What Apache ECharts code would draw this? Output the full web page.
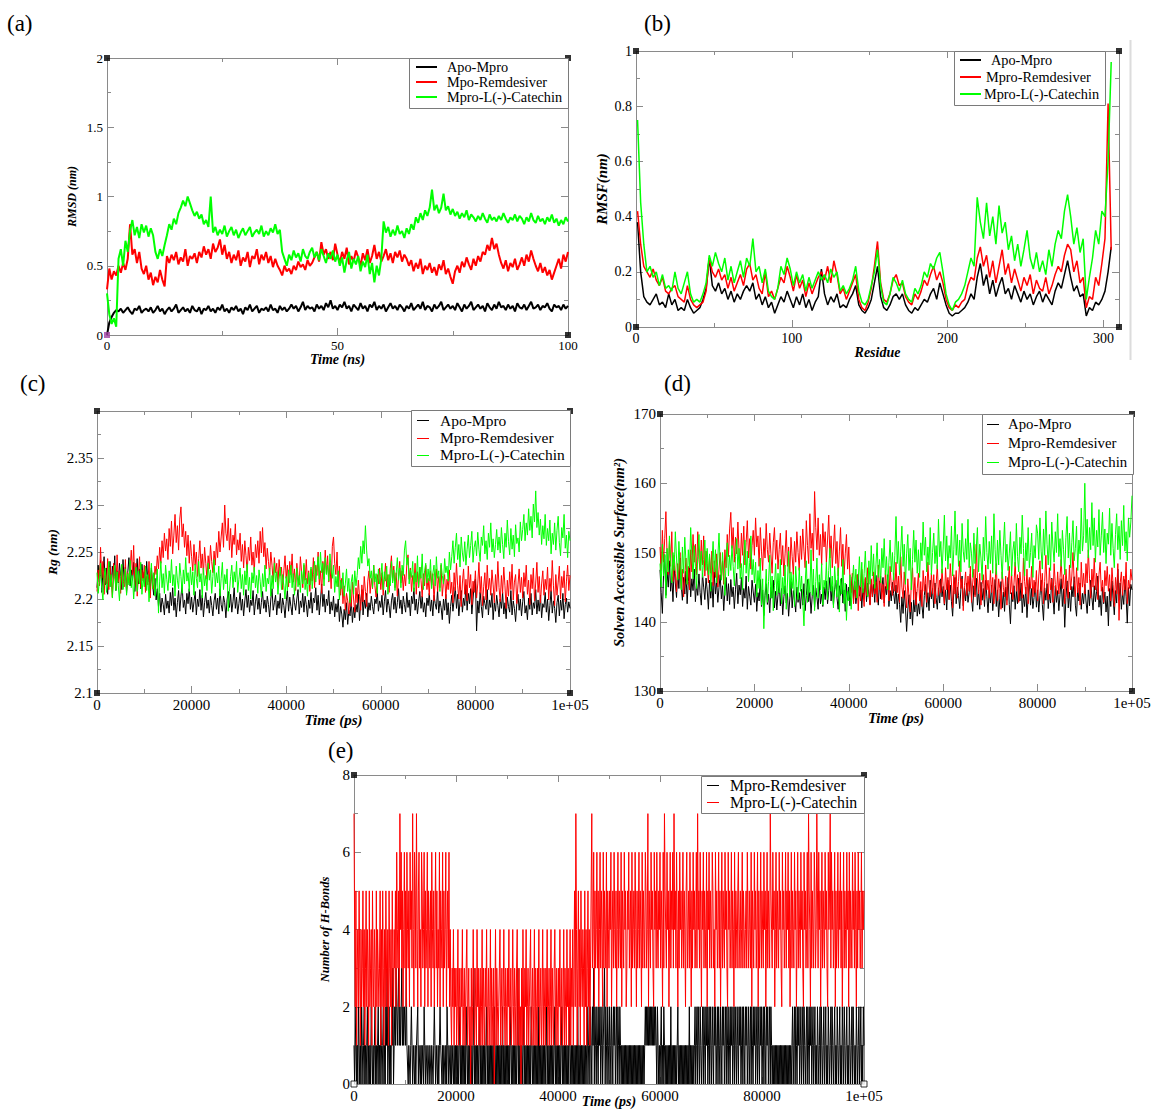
<!DOCTYPE html>
<html><head><meta charset="utf-8">
<script src="https://cdn.jsdelivr.net/npm/echarts@6/dist/echarts.min.js"></script>
<style>html,body{margin:0;padding:0;background:#fff}#c{width:1151px;height:1115px}</style>
</head><body><div id="c"></div>
<script>
// ---------- (a) RMSD, one value every 0.5 ns ----------
const rmsdStepNs = 0.5;
const rmsdApo = [
0.00,0.09,0.13,0.16,0.18,0.17,0.19,0.16,0.18,0.20,
0.17,0.15,0.19,0.18,0.21,0.16,0.18,0.19,0.17,0.20,
0.16,0.18,0.21,0.17,0.19,0.15,0.18,0.20,0.17,0.19,
0.22,0.16,0.18,0.20,0.17,0.19,0.16,0.21,0.18,0.17,
0.20,0.15,0.19,0.18,0.21,0.17,0.19,0.16,0.20,0.18,
0.22,0.17,0.19,0.16,0.20,0.18,0.21,0.17,0.19,0.15,
0.20,0.18,0.22,0.17,0.19,0.21,0.16,0.19,0.18,0.20,
0.17,0.22,0.18,0.19,0.16,0.21,0.18,0.20,0.17,0.19,
0.22,0.19,0.21,0.17,0.20,0.24,0.18,0.21,0.19,0.20,
0.17,0.22,0.19,0.21,0.18,0.23,0.20,0.25,0.19,0.21,
0.18,0.22,0.20,0.24,0.19,0.21,0.17,0.22,0.20,0.18,
0.23,0.19,0.21,0.17,0.22,0.20,0.24,0.18,0.21,0.19,
0.22,0.17,0.20,0.23,0.19,0.21,0.18,0.22,0.20,0.17,
0.21,0.19,0.23,0.18,0.20,0.22,0.19,0.24,0.18,0.21,
0.20,0.17,0.22,0.19,0.21,0.24,0.18,0.20,0.22,0.19,
0.21,0.18,0.23,0.20,0.17,0.22,0.19,0.21,0.24,0.18,
0.20,0.22,0.19,0.21,0.17,0.23,0.20,0.18,0.22,0.19,
0.24,0.20,0.21,0.18,0.22,0.19,0.21,0.17,0.23,0.20,
0.19,0.22,0.18,0.21,0.24,0.19,0.20,0.22,0.18,0.21,
0.20,0.23,0.19,0.17,0.22,0.20,0.21,0.18,0.22,0.19,
0.21];
const rmsdRem = [
0.33,0.48,0.40,0.46,0.43,0.50,0.45,0.52,0.47,0.55,
0.80,0.58,0.62,0.52,0.60,0.48,0.44,0.50,0.40,0.45,
0.36,0.42,0.38,0.47,0.40,0.35,0.57,0.52,0.58,0.54,
0.60,0.51,0.56,0.53,0.62,0.50,0.57,0.55,0.59,0.52,
0.60,0.56,0.64,0.58,0.62,0.55,0.66,0.60,0.63,0.69,
0.58,0.65,0.55,0.60,0.52,0.58,0.54,0.61,0.50,0.56,
0.53,0.60,0.49,0.57,0.55,0.62,0.51,0.58,0.54,0.60,
0.52,0.57,0.49,0.55,0.50,0.47,0.43,0.50,0.46,0.48,
0.44,0.50,0.47,0.53,0.49,0.51,0.47,0.54,0.50,0.52,
0.56,0.60,0.53,0.67,0.58,0.62,0.55,0.60,0.54,0.66,
0.58,0.52,0.60,0.55,0.63,0.51,0.57,0.53,0.61,0.56,
0.50,0.59,0.54,0.62,0.52,0.57,0.65,0.55,0.60,0.53,
0.57,0.62,0.54,0.59,0.52,0.60,0.56,0.61,0.53,0.58,
0.55,0.50,0.54,0.46,0.52,0.48,0.55,0.44,0.50,0.47,
0.52,0.45,0.49,0.43,0.51,0.47,0.54,0.44,0.48,0.42,
0.37,0.46,0.50,0.45,0.53,0.49,0.56,0.51,0.47,0.55,
0.50,0.57,0.53,0.60,0.58,0.65,0.61,0.70,0.62,0.66,
0.58,0.52,0.48,0.54,0.46,0.52,0.49,0.55,0.47,0.51,
0.56,0.50,0.58,0.53,0.61,0.55,0.50,0.46,0.52,0.45,
0.49,0.43,0.47,0.40,0.45,0.50,0.55,0.48,0.58,0.53,
0.60];
const rmsdCat = [
0.30,0.15,0.08,0.12,0.06,0.55,0.62,0.50,0.68,0.60,
0.75,0.83,0.72,0.78,0.70,0.80,0.74,0.79,0.71,0.77,
0.72,0.60,0.55,0.62,0.57,0.65,0.72,0.80,0.76,0.84,
0.80,0.88,0.92,0.97,0.93,1.00,0.95,0.90,0.86,0.89,
0.84,0.87,0.80,0.83,0.78,1.00,0.74,0.78,0.72,0.76,
0.73,0.79,0.71,0.75,0.78,0.72,0.76,0.70,0.74,0.77,
0.72,0.75,0.78,0.71,0.74,0.76,0.73,0.79,0.71,0.75,
0.72,0.77,0.74,0.80,0.73,0.76,0.60,0.55,0.50,0.58,
0.54,0.61,0.56,0.59,0.53,0.62,0.57,0.55,0.60,0.63,
0.56,0.60,0.54,0.62,0.57,0.52,0.59,0.55,0.61,0.53,
0.58,0.50,0.56,0.45,0.54,0.60,0.48,0.55,0.51,0.57,
0.46,0.53,0.49,0.58,0.44,0.52,0.38,0.50,0.43,0.55,
0.82,0.74,0.78,0.71,0.76,0.72,0.79,0.73,0.75,0.70,
0.77,0.73,0.80,0.76,0.85,0.81,0.88,0.83,0.90,0.86,
0.92,1.05,0.90,0.94,0.88,0.92,1.02,0.90,0.93,0.87,
0.91,0.86,0.89,0.84,0.88,0.85,0.90,0.83,0.87,0.85,
0.82,0.86,0.83,0.88,0.84,0.81,0.87,0.83,0.85,0.82,
0.86,0.83,0.88,0.84,0.81,0.85,0.83,0.87,0.82,0.86,
0.84,0.80,0.85,0.82,0.88,0.83,0.81,0.86,0.82,0.84,
0.80,0.85,0.82,0.87,0.81,0.84,0.79,0.83,0.80,0.85,
0.82];

// ---------- (b) RMSF, residues 1,3,5,...,305 ----------
const rmsfFirstResidue = 1, rmsfResidueStep = 2;
const rmsfApo = [
0.38,0.20,0.11,0.09,0.08,0.10,0.12,0.08,0.09,0.07,
0.12,0.08,0.10,0.06,0.07,0.06,0.10,0.07,0.05,0.06,
0.07,0.10,0.14,0.25,0.15,0.13,0.16,0.12,0.14,0.10,
0.13,0.09,0.12,0.10,0.13,0.15,0.13,0.16,0.10,0.12,
0.08,0.11,0.07,0.09,0.05,0.08,0.11,0.09,0.13,0.10,
0.07,0.11,0.08,0.12,0.07,0.10,0.06,0.09,0.11,0.21,
0.12,0.08,0.11,0.09,0.12,0.07,0.08,0.07,0.10,0.12,
0.15,0.08,0.06,0.05,0.07,0.10,0.16,0.22,0.11,0.07,
0.06,0.08,0.11,0.12,0.10,0.12,0.08,0.06,0.05,0.07,
0.06,0.08,0.10,0.09,0.12,0.14,0.10,0.16,0.12,0.08,
0.05,0.04,0.05,0.05,0.06,0.07,0.09,0.12,0.10,0.18,
0.23,0.15,0.19,0.12,0.17,0.11,0.15,0.18,0.12,0.14,
0.10,0.15,0.12,0.09,0.13,0.10,0.12,0.08,0.11,0.13,
0.09,0.12,0.10,0.08,0.13,0.16,0.14,0.19,0.24,0.18,
0.13,0.15,0.11,0.12,0.04,0.07,0.06,0.09,0.08,0.10,
0.13,0.20,0.29];
const rmsfRem = [
0.42,0.30,0.22,0.20,0.18,0.21,0.17,0.15,0.18,0.13,
0.12,0.14,0.15,0.11,0.10,0.09,0.15,0.10,0.08,0.07,
0.08,0.09,0.13,0.25,0.20,0.18,0.21,0.17,0.19,0.14,
0.18,0.13,0.16,0.19,0.15,0.21,0.23,0.17,0.19,0.14,
0.12,0.20,0.11,0.13,0.10,0.14,0.18,0.16,0.22,0.18,
0.13,0.19,0.14,0.17,0.11,0.16,0.12,0.15,0.18,0.20,
0.17,0.22,0.16,0.24,0.19,0.12,0.14,0.10,0.13,0.16,
0.19,0.10,0.07,0.06,0.09,0.14,0.22,0.31,0.16,0.10,
0.09,0.12,0.17,0.19,0.15,0.16,0.11,0.09,0.08,0.12,
0.10,0.13,0.17,0.15,0.19,0.22,0.17,0.20,0.16,0.10,
0.07,0.06,0.08,0.07,0.09,0.10,0.15,0.18,0.17,0.25,
0.29,0.22,0.26,0.18,0.24,0.16,0.22,0.28,0.19,0.23,
0.16,0.21,0.17,0.13,0.18,0.15,0.19,0.12,0.17,0.14,
0.13,0.18,0.12,0.15,0.19,0.22,0.20,0.26,0.30,0.28,
0.20,0.24,0.16,0.18,0.07,0.11,0.10,0.18,0.15,0.23,
0.32,0.81,0.28];
const rmsfCat = [
0.75,0.45,0.30,0.20,0.22,0.18,0.20,0.15,0.19,0.14,
0.15,0.13,0.20,0.14,0.12,0.16,0.20,0.12,0.09,0.10,
0.09,0.12,0.16,0.26,0.22,0.27,0.23,0.20,0.25,0.17,
0.22,0.16,0.20,0.24,0.18,0.25,0.22,0.32,0.20,0.22,
0.16,0.21,0.13,0.11,0.10,0.14,0.22,0.19,0.25,0.21,
0.15,0.20,0.16,0.19,0.13,0.18,0.14,0.17,0.20,0.17,
0.19,0.16,0.21,0.18,0.20,0.13,0.15,0.12,0.14,0.17,
0.22,0.13,0.09,0.08,0.10,0.15,0.20,0.28,0.15,0.09,
0.08,0.12,0.18,0.16,0.13,0.17,0.12,0.10,0.09,0.14,
0.12,0.15,0.20,0.18,0.23,0.21,0.25,0.27,0.20,0.12,
0.08,0.06,0.09,0.10,0.12,0.15,0.20,0.25,0.22,0.47,
0.38,0.32,0.45,0.33,0.40,0.30,0.44,0.34,0.38,0.28,
0.33,0.24,0.30,0.22,0.28,0.35,0.25,0.21,0.27,0.20,
0.24,0.19,0.28,0.22,0.30,0.35,0.32,0.42,0.48,0.40,
0.30,0.36,0.27,0.32,0.10,0.18,0.25,0.35,0.30,0.42,
0.40,0.60,0.96];

// ---------- (c) Rg, one value every 250 ps ----------
const rgStepPs = 250;
const rgApo = [
2.212,2.236,2.218,2.241,2.207,2.229,2.245,2.215,2.233,2.205,2.226,2.240,2.213,2.235,2.221,2.246,2.209,2.230,2.217,2.238,
2.224,2.210,2.242,2.219,2.234,2.206,2.228,2.244,2.214,2.231,2.220,2.239,2.208,2.227,2.243,2.216,2.232,2.211,2.237,2.222,
2.229,2.213,2.240,2.218,2.226,2.207,2.233,2.215,2.204,2.222,2.199,2.211,2.192,2.206,2.186,2.201,2.194,2.183,2.205,2.190,
2.198,2.185,2.207,2.193,2.212,2.188,2.201,2.181,2.196,2.209,2.187,2.203,2.215,2.191,2.199,2.184,2.206,2.195,2.211,2.189,
2.202,2.186,2.197,2.208,2.183,2.200,2.192,2.210,2.188,2.204,2.181,2.196,2.207,2.190,2.199,2.185,2.203,2.193,2.182,2.198,
2.206,2.189,2.201,2.184,2.211,2.194,2.187,2.203,2.196,2.180,2.199,2.208,2.191,2.205,2.186,2.197,2.212,2.190,2.202,2.184,
2.195,2.207,2.188,2.200,2.182,2.198,2.210,2.191,2.204,2.186,2.199,2.193,2.209,2.183,2.197,2.205,2.189,2.201,2.184,2.196,
2.208,2.190,2.199,2.186,2.203,2.194,2.181,2.200,2.211,2.188,2.196,2.204,2.183,2.198,2.190,2.206,2.185,2.201,2.193,2.180,
2.197,2.209,2.187,2.202,2.192,2.183,2.205,2.196,2.188,2.200,2.210,2.184,2.198,2.191,2.206,2.186,2.203,2.194,2.181,2.199,
2.190,2.207,2.185,2.201,2.196,2.212,2.188,2.204,2.183,2.199,2.216,2.192,2.205,2.186,2.200,2.193,2.209,2.184,2.197,2.188,
2.203,2.181,2.195,2.186,2.200,2.176,2.192,2.184,2.170,2.189,2.178,2.196,2.173,2.188,2.182,2.199,2.175,2.191,2.180,2.194,
2.186,2.205,2.177,2.197,2.210,2.183,2.199,2.190,2.206,2.181,2.196,2.188,2.203,2.192,2.184,2.200,2.195,2.208,2.187,2.198,
2.191,2.204,2.183,2.197,2.209,2.186,2.200,2.193,2.180,2.198,2.206,2.189,2.202,2.185,2.196,2.211,2.190,2.199,2.184,2.203,
2.194,2.186,2.207,2.191,2.199,2.182,2.203,2.195,2.212,2.188,2.200,2.184,2.197,2.208,2.190,2.203,2.186,2.196,2.181,2.201,
2.193,2.206,2.187,2.199,2.182,2.204,2.195,2.189,2.210,2.185,2.198,2.191,2.178,2.200,2.188,2.205,2.183,2.196,2.174,2.192,
2.204,2.187,2.199,2.213,2.190,2.205,2.182,2.197,2.209,2.186,2.201,2.193,2.215,2.188,2.206,2.195,2.211,2.184,2.200,2.217,
2.221,2.166,2.198,2.185,2.207,2.192,2.180,2.203,2.195,2.189,2.210,2.183,2.199,2.191,2.206,2.178,2.196,2.187,2.204,2.193,
2.181,2.200,2.190,2.207,2.184,2.196,2.179,2.202,2.192,2.186,2.209,2.183,2.198,2.190,2.176,2.195,2.205,2.188,2.200,2.182,
2.197,2.208,2.185,2.193,2.178,2.201,2.189,2.206,2.183,2.196,2.190,2.210,2.184,2.199,2.187,2.204,2.180,2.195,2.191,2.207,
2.186,2.200,2.177,2.193,2.209,2.185,2.198,2.190,2.175,2.196,2.204,2.182,2.199,2.188,2.206,2.179,2.194,2.201,2.186,2.197,
2.190];
const rgRem = [
2.208,2.231,2.214,2.255,2.222,2.240,2.205,2.228,2.216,2.243,2.210,2.234,2.219,2.202,2.238,2.224,2.211,2.247,2.218,2.230,
2.206,2.236,2.221,2.213,2.242,2.209,2.228,2.217,2.233,2.252,2.225,2.257,2.214,2.238,2.203,2.226,2.245,2.212,2.231,2.219,
2.236,2.207,2.224,2.215,2.240,2.201,2.229,2.218,2.211,2.235,2.226,2.246,2.232,2.255,2.238,2.262,2.244,2.270,2.251,2.264,
2.242,2.275,2.256,2.283,2.248,2.268,2.290,2.260,2.278,2.252,2.285,2.298,2.266,2.280,2.255,2.272,2.246,2.268,2.238,2.262,
2.245,2.230,2.258,2.236,2.250,2.224,2.243,2.262,2.233,2.248,2.226,2.255,2.238,2.221,2.246,2.232,2.257,2.240,2.228,2.251,
2.236,2.260,2.244,2.272,2.250,2.266,2.281,2.255,2.300,2.270,2.262,2.286,2.252,2.275,2.244,2.268,2.258,2.280,2.247,2.263,
2.252,2.270,2.240,2.258,2.233,2.262,2.246,2.228,2.255,2.241,2.266,2.236,2.250,2.229,2.258,2.244,2.262,2.238,2.272,2.249,
2.276,2.245,2.260,2.232,2.254,2.240,2.226,2.250,2.236,2.218,2.244,2.228,2.238,2.214,2.242,2.225,2.234,2.210,2.230,2.246,
2.222,2.236,2.213,2.240,2.226,2.248,2.218,2.232,2.209,2.238,2.224,2.215,2.245,2.229,2.212,2.236,2.220,2.242,2.216,2.230,
2.208,2.232,2.219,2.244,2.212,2.236,2.225,2.250,2.215,2.230,2.206,2.240,2.221,2.252,2.227,2.246,2.218,2.238,2.211,2.256,
2.266,2.238,2.226,2.250,2.213,2.235,2.204,2.222,2.195,2.214,2.188,2.206,2.198,2.184,2.210,2.192,2.218,2.200,2.186,2.212,
2.196,2.220,2.203,2.188,2.215,2.197,2.224,2.208,2.192,2.219,2.230,2.206,2.222,2.211,2.236,2.214,2.202,2.226,2.216,2.233,
2.210,2.228,2.204,2.221,2.238,2.213,2.226,2.207,2.232,2.246,2.219,2.235,2.212,2.228,2.203,2.224,2.240,2.217,2.230,2.209,
2.226,2.214,2.237,2.247,2.221,2.233,2.208,2.225,2.216,2.238,2.205,2.229,2.212,2.234,2.220,2.202,2.227,2.214,2.236,2.210,
2.222,2.204,2.230,2.215,2.227,2.198,2.219,2.232,2.208,2.224,2.212,2.236,2.203,2.218,2.226,2.200,2.221,2.210,2.231,2.206,
2.218,2.196,2.228,2.209,2.238,2.214,2.200,2.225,2.192,2.217,2.232,2.205,2.221,2.198,2.235,2.212,2.226,2.194,2.219,2.207,
2.230,2.201,2.216,2.239,2.206,2.224,2.193,2.213,2.228,2.199,2.236,2.210,2.222,2.204,2.231,2.215,2.196,2.226,2.208,2.240,
2.212,2.197,2.225,2.206,2.234,2.214,2.190,2.220,2.203,2.229,2.210,2.237,2.199,2.218,2.226,2.195,2.215,2.232,2.207,2.223,
2.201,2.228,2.213,2.236,2.205,2.220,2.194,2.226,2.211,2.233,2.198,2.217,2.239,2.207,2.224,2.196,2.216,2.230,2.204,2.221,
2.210,2.234,2.199,2.222,2.208,2.241,2.214,2.193,2.226,2.204,2.218,2.235,2.200,2.224,2.212,2.230,2.197,2.219,2.236,2.209,
2.225];
const rgCat = [
2.228,2.206,2.219,2.238,2.211,2.199,2.224,2.233,2.207,2.216,2.240,2.213,2.226,2.201,2.221,2.236,2.209,2.229,2.214,2.198,
2.223,2.237,2.210,2.218,2.232,2.204,2.227,2.215,2.241,2.212,2.225,2.200,2.219,2.234,2.208,2.230,2.216,2.239,2.205,2.222,
2.213,2.235,2.209,2.226,2.197,2.220,2.238,2.211,2.228,2.203,2.216,2.232,2.185,2.219,2.240,2.212,2.227,2.206,2.236,2.221,
2.209,2.230,2.217,2.242,2.214,2.226,2.203,2.235,2.220,2.211,2.238,2.224,2.206,2.231,2.216,2.244,2.219,2.228,2.208,2.234,
2.215,2.229,2.204,2.237,2.222,2.212,2.240,2.218,2.227,2.201,2.233,2.214,2.225,2.209,2.238,2.220,2.231,2.206,2.224,2.242,
2.213,2.228,2.217,2.235,2.203,2.222,2.239,2.210,2.226,2.216,2.232,2.187,2.208,2.224,2.236,2.212,2.229,2.218,2.240,2.207,
2.221,2.233,2.211,2.226,2.204,2.230,2.215,2.237,2.209,2.223,2.200,2.228,2.217,2.234,2.212,2.225,2.206,2.231,2.219,2.202,
2.227,2.213,2.236,2.208,2.222,2.216,2.233,2.203,2.225,2.211,2.238,2.218,2.229,2.205,2.221,2.234,2.210,2.226,2.214,2.200,
2.224,2.209,2.231,2.217,2.236,2.212,2.227,2.204,2.219,2.233,2.213,2.225,2.207,2.230,2.216,2.238,2.210,2.222,2.203,2.228,
2.215,2.234,2.211,2.226,2.240,2.218,2.232,2.245,2.221,2.250,2.228,2.238,2.214,2.244,2.226,2.236,2.219,2.248,2.231,2.222,
2.236,2.207,2.224,2.213,2.230,2.199,2.220,2.211,2.228,2.203,2.216,2.232,2.208,2.222,2.196,2.218,2.226,2.205,2.230,2.214,
2.225,2.244,2.232,2.256,2.238,2.262,2.248,2.278,2.252,2.235,2.243,2.222,2.230,2.212,2.236,2.218,2.227,2.206,2.232,2.216,
2.224,2.238,2.210,2.229,2.219,2.235,2.205,2.226,2.214,2.240,2.217,2.231,2.209,2.227,2.244,2.220,2.233,2.212,2.236,2.225,
2.252,2.262,2.236,2.244,2.216,2.231,2.223,2.240,2.208,2.228,2.218,2.246,2.213,2.234,2.222,2.248,2.210,2.230,2.238,2.217,
2.232,2.219,2.242,2.211,2.227,2.236,2.214,2.245,2.222,2.230,2.208,2.238,2.225,2.216,2.243,2.228,2.235,2.219,2.250,2.231,
2.245,2.262,2.238,2.255,2.270,2.242,2.258,2.234,2.266,2.249,2.240,2.261,2.236,2.253,2.268,2.244,2.257,2.272,2.239,2.255,
2.262,2.246,2.271,2.253,2.240,2.266,2.257,2.278,2.248,2.262,2.242,2.270,2.255,2.281,2.250,2.264,2.244,2.258,2.274,2.252,
2.266,2.249,2.276,2.258,2.243,2.270,2.255,2.284,2.261,2.247,2.275,2.253,2.268,2.245,2.279,2.259,2.265,2.250,2.282,2.262,
2.274,2.290,2.262,2.281,2.268,2.296,2.273,2.288,2.265,2.301,2.282,2.315,2.276,2.292,2.268,2.285,2.258,2.278,2.264,2.290,
2.257,2.275,2.262,2.284,2.248,2.270,2.258,2.281,2.252,2.273,2.288,2.260,2.246,2.276,2.265,2.290,2.254,2.268,2.244,2.272,
2.262];

// ---------- (d) SASA, one value every 250 ps ----------
const sasaStepPs = 250;
const sasaApo = [
147.5,144.2,141.2,146.8,149.6,143.8,147.2,145.0,148.8,144.4,146.5,142.9,148.1,145.6,143.5,147.4,144.8,149.2,145.3,143.1,
146.4,144.0,147.3,142.6,145.8,148.0,143.6,146.2,144.5,147.6,142.9,145.4,143.8,146.9,144.2,142.4,147.0,145.0,143.2,146.3,
144.6,141.8,146.0,143.4,145.7,142.1,147.2,144.0,145.9,142.8,144.9,146.8,143.3,145.2,141.6,144.4,146.4,143.0,145.5,142.5,
146.1,143.6,145.0,141.9,144.7,147.0,142.6,145.3,143.9,146.4,142.2,144.8,143.4,146.6,141.8,145.1,143.7,142.4,146.0,144.3,
142.8,145.4,141.5,144.2,143.0,146.1,142.2,144.6,140.9,143.8,145.5,142.5,144.0,141.3,145.0,143.4,146.0,142.0,144.4,141.7,
143.9,145.6,142.3,144.8,141.0,143.6,145.2,142.7,144.1,140.8,143.3,145.8,142.0,144.5,143.1,141.4,145.0,142.8,144.2,141.9,
144.7,142.4,145.5,141.6,143.8,146.1,142.9,144.3,141.2,143.7,145.3,142.1,144.9,143.5,141.8,145.7,142.6,144.0,142.2,145.0,
143.2,145.9,142.6,144.5,146.4,143.0,145.1,142.4,144.7,146.0,143.4,141.8,145.2,143.8,146.3,142.7,144.6,141.5,145.4,143.1,
145.0,142.3,144.6,146.5,143.2,145.8,142.6,144.1,146.9,143.7,145.3,142.0,144.8,143.4,146.2,142.9,145.6,144.0,142.5,146.0,
143.6,145.4,142.8,146.7,144.2,142.4,145.9,143.3,144.9,146.4,142.7,145.1,143.9,146.8,142.2,144.5,143.0,145.7,144.1,142.6,
145.3,141.8,144.0,142.5,139.9,143.6,141.2,144.5,142.0,138.6,141.7,143.9,140.4,142.8,139.5,143.2,141.4,144.3,140.8,142.6,
141.1,144.6,142.4,140.5,143.8,145.4,142.1,144.2,141.6,146.0,143.3,144.8,142.0,145.6,143.5,141.8,144.9,142.7,146.2,143.6,
145.1,142.4,144.6,141.7,146.0,143.2,145.3,142.9,140.8,144.5,146.4,142.6,145.0,143.8,141.9,144.7,146.6,142.3,144.9,143.0,
145.6,142.8,144.2,146.9,143.4,141.5,145.2,143.9,146.3,142.4,144.6,141.8,145.7,143.1,144.8,142.2,146.0,143.6,141.3,144.5,
142.7,145.3,141.6,143.9,146.1,142.2,144.6,140.7,143.4,145.8,142.0,144.3,141.5,145.0,143.1,146.4,142.5,139.7,144.2,142.9,
145.2,141.8,144.4,142.6,146.3,143.0,145.6,141.3,143.9,142.2,145.0,140.6,143.6,146.1,142.4,144.8,141.9,143.5,145.7,142.1,
144.6,141.4,143.8,146.0,142.5,140.2,144.9,143.1,145.5,141.9,144.0,142.7,146.3,143.4,141.1,145.2,142.8,144.5,141.6,143.9,
146.2,142.2,144.7,139.2,143.5,145.9,142.0,144.3,141.5,145.1,143.6,146.5,142.4,140.8,144.9,143.0,145.6,141.8,144.1,142.6,
145.4,143.0,141.2,144.6,142.3,146.0,143.5,141.7,145.2,142.9,144.4,146.6,142.1,143.8,140.9,145.0,142.6,144.3,141.4,143.7,
139.4,144.8,142.2,145.9,143.3,141.0,144.5,142.7,147.6,143.1,145.6,141.8,144.2,142.5,146.1,143.6,139.8,144.9,142.3,145.4,
144.6];
const sasaRem = [
150.8,147.4,153.2,148.6,152.0,155.9,149.4,146.8,151.6,148.0,153.0,145.8,149.6,147.0,144.3,148.4,146.2,150.0,144.8,147.6,
143.6,146.6,149.2,145.4,148.0,144.6,150.4,147.2,152.6,148.6,151.2,146.8,153.0,149.0,147.4,151.8,148.2,152.4,146.6,150.2,
148.4,145.6,149.6,147.0,150.2,145.2,148.8,146.4,149.8,145.0,147.6,150.0,146.2,148.8,145.4,150.4,147.8,152.6,149.4,153.4,
155.8,150.6,153.6,148.6,152.2,149.8,154.4,150.2,147.8,152.8,149.6,153.8,148.2,151.4,154.6,149.2,152.0,147.6,151.0,153.2,
149.6,155.0,150.8,152.4,148.0,153.6,150.2,147.4,152.0,149.2,154.2,150.4,148.6,152.8,149.8,147.0,151.4,153.6,149.0,151.8,
147.6,150.4,152.8,148.2,151.0,146.6,149.8,153.2,148.0,150.8,147.0,152.2,149.4,146.8,151.6,148.6,153.0,150.0,147.4,152.4,
149.0,153.4,150.2,147.8,154.6,151.0,148.4,155.6,150.6,152.8,148.8,158.8,153.6,150.4,155.0,149.6,152.6,148.2,154.2,150.8,
153.0,148.6,151.8,155.4,149.2,152.4,147.8,150.8,154.0,148.4,151.6,146.6,150.2,153.6,148.0,151.2,146.8,149.8,152.6,147.6,
150.8,146.0,144.2,147.0,142.6,145.8,143.4,146.8,141.6,145.2,143.0,147.6,144.4,142.2,146.4,143.8,147.8,144.8,142.4,146.2,
143.6,147.2,144.0,145.8,142.8,148.2,144.6,146.6,143.2,145.4,142.2,147.4,144.8,146.0,143.0,148.0,145.2,143.8,147.0,144.4,
148.6,144.2,146.6,142.8,149.4,145.0,143.4,147.2,144.6,142.0,146.2,143.6,141.4,145.6,147.8,143.2,146.4,142.4,144.8,147.0,
143.0,145.8,142.2,147.4,144.4,146.6,142.8,148.6,145.2,143.6,147.0,144.0,146.8,142.6,145.4,148.2,143.8,146.0,144.2,147.6,
145.0,142.6,147.8,144.6,146.4,143.2,148.4,145.6,142.0,146.8,144.0,147.4,143.4,145.8,148.8,144.8,146.2,141.6,145.2,147.2,
143.8,146.6,144.4,148.0,142.8,145.6,147.6,143.6,151.2,146.2,144.0,147.0,142.4,145.4,146.8,143.2,148.2,144.6,146.0,143.4,
147.4,144.2,146.4,142.6,145.8,148.4,143.0,146.2,144.8,141.8,147.2,145.0,143.6,146.6,142.4,145.4,148.0,144.0,146.8,143.2,
145.6,148.6,144.4,146.8,142.8,147.2,145.2,143.4,149.2,145.8,144.0,147.6,142.6,146.4,144.8,148.0,143.6,146.0,144.2,147.4,
143.0,146.6,148.8,144.4,147.0,142.6,145.8,149.6,145.0,143.2,147.8,144.6,146.2,142.8,148.4,145.4,143.8,147.2,144.0,146.4,
149.0,144.8,146.8,142.6,147.6,145.2,143.4,148.2,144.6,146.6,150.0,145.8,143.6,147.8,144.2,146.4,142.4,148.6,145.0,147.0,
144.0,148.4,145.6,150.4,146.2,143.4,147.6,145.0,149.2,144.6,147.0,143.2,146.8,148.6,144.4,146.0,142.8,147.4,145.2,148.0,
144.4,146.8,143.0,147.8,145.4,142.2,146.4,144.0,148.4,140.2,145.6,147.2,143.8,146.6,144.6,148.6,142.6,146.0,144.8,147.6,
146.0];
const sasaCat = [
148.4,145.0,151.2,146.6,149.8,143.4,150.6,147.2,152.4,148.8,145.6,150.0,147.4,153.0,149.2,146.0,151.6,148.2,144.6,150.8,
147.0,152.2,148.6,145.4,150.4,147.8,153.6,149.6,146.2,151.0,148.0,144.8,149.4,152.6,147.6,150.2,146.4,149.0,151.8,147.4,
150.6,146.8,149.8,144.4,148.6,151.6,147.2,150.4,145.6,149.2,152.8,148.2,146.0,150.0,147.0,143.8,148.8,151.4,146.6,149.6,
147.4,151.0,148.0,145.2,149.4,152.0,147.6,150.6,146.2,148.4,144.6,149.8,151.8,147.0,150.2,145.8,148.6,152.4,146.8,149.0,
145.6,148.6,143.6,147.4,144.8,149.2,142.4,146.2,139.0,144.0,147.6,142.8,145.8,149.6,143.4,146.6,141.6,145.2,148.4,143.8,
147.0,144.2,149.0,142.6,146.4,144.0,148.2,141.8,145.6,150.2,143.6,147.2,144.8,146.8,142.2,148.0,145.0,143.2,147.8,144.4,
146.6,143.0,139.4,145.4,148.8,142.8,146.2,144.2,150.4,143.8,147.6,141.6,145.8,149.2,143.4,146.8,144.6,148.4,142.4,146.0,
144.8,148.6,143.2,147.4,150.6,144.4,146.6,142.0,148.0,145.2,143.6,147.8,141.4,146.2,144.0,149.0,142.6,145.6,140.2,144.4,
143.0,146.8,141.8,145.4,148.2,144.6,147.6,143.4,146.0,149.4,145.0,148.6,144.2,147.0,150.2,146.0,143.6,148.8,145.4,151.0,
146.6,149.8,144.8,148.2,151.4,146.4,149.0,145.6,150.6,147.8,152.0,146.8,149.4,144.6,148.6,151.8,147.2,150.0,146.0,149.6,
155.2,148.4,151.6,146.8,150.2,153.8,148.0,151.2,145.4,149.8,152.6,147.4,150.6,144.6,149.0,153.2,148.6,151.8,147.0,150.4,
146.4,151.4,148.8,154.4,149.6,152.2,147.2,150.8,148.2,153.6,146.8,150.0,152.8,148.4,151.0,147.6,154.8,149.4,151.6,147.0,
150.8,155.4,148.8,152.4,147.6,151.0,149.2,153.8,146.6,150.4,156.0,149.6,152.6,148.0,151.8,147.2,154.2,150.2,148.6,152.0,
149.0,154.8,147.8,151.4,149.8,146.4,152.8,148.4,150.6,153.6,147.2,151.2,149.2,146.0,152.2,148.8,155.2,150.0,147.6,151.6,
148.4,152.4,147.0,155.6,150.4,146.8,151.8,148.2,153.2,149.6,146.2,150.8,154.4,148.6,151.2,147.4,149.8,153.0,146.6,150.2,
151.6,148.0,154.2,149.4,147.2,152.2,149.8,155.4,150.6,146.6,151.4,148.8,153.6,147.8,150.0,152.8,146.4,151.0,149.2,154.0,
152.8,149.0,155.0,150.2,147.6,153.4,149.6,156.0,151.2,148.2,152.6,147.4,154.4,150.8,148.6,153.0,150.0,155.6,149.4,152.0,
148.0,153.2,150.4,146.8,152.2,155.2,149.2,152.8,147.8,151.4,154.6,148.8,150.6,153.8,147.4,151.8,149.8,156.4,150.2,152.4,
160.0,151.4,154.8,149.2,153.6,150.4,157.2,151.0,155.0,148.6,153.2,150.8,156.2,149.6,152.4,155.8,150.0,153.4,148.4,152.8,
151.2,156.4,149.6,154.2,150.6,147.8,152.6,155.6,150.4,153.8,149.0,154.6,151.0,156.8,150.2,153.0,148.8,155.0,152.2,154.4,
158.2];

// ---------- (e) H-bonds, one value every 125 ps ----------
const hbStepPs = 125;
const hbRem = [
1,0,1,2,0,1,0,2,1,0,1,0,2,1,0,1,2,0,1,0,1,2,0,1,0,1,0,2,1,0,1,0,1,2,0,1,0,1,2,0,
1,0,2,1,0,1,2,0,1,0,2,1,3,0,1,2,0,1,0,2,1,3,0,1,2,1,3,2,1,2,3,1,2,1,2,3,1,2,1,2,
2,1,3,1,1,0,1,1,0,1,2,1,0,1,1,0,1,0,1,1,2,0,1,1,0,1,0,1,1,0,2,1,0,1,1,0,1,1,0,1,
1,0,1,1,0,1,2,1,0,1,1,0,1,0,1,2,1,1,0,1,0,1,1,0,1,0,2,1,0,1,1,0,1,0,1,1,0,1,0,1,
0,1,0,1,0,1,2,0,1,0,1,0,1,0,1,0,2,1,0,1,0,1,0,1,0,1,0,1,3,0,1,0,1,0,1,0,1,2,0,1,
0,1,0,1,0,1,0,1,2,0,1,0,1,0,1,0,1,0,1,0,2,1,0,1,0,1,0,1,0,1,0,1,0,2,0,1,0,1,0,1,
0,1,0,1,0,2,1,0,1,0,1,0,1,0,1,0,1,3,0,1,0,1,0,1,0,1,2,0,1,0,1,0,1,0,1,0,1,0,2,1,
0,1,0,1,0,1,0,1,0,2,0,1,0,1,0,1,0,1,0,1,0,1,2,0,1,0,1,0,1,0,1,0,1,0,1,2,0,1,0,1,
0,1,0,1,0,1,2,0,1,0,1,0,1,0,1,0,1,0,2,1,0,1,0,1,0,1,0,1,0,1,0,2,0,1,0,1,0,1,0,1,
0,1,0,1,0,1,2,0,1,2,0,2,1,0,2,1,3,0,2,1,0,2,1,0,2,1,2,0,1,2,0,1,2,3,0,2,1,0,2,1,
0,2,1,0,2,1,0,2,1,2,0,1,2,0,2,1,0,2,1,0,1,0,1,0,1,0,1,0,1,0,1,0,1,0,1,0,1,0,1,0,
1,0,1,0,1,0,1,0,1,0,1,0,1,0,1,0,1,2,1,2,1,2,1,2,1,2,1,2,1,2,1,2,1,2,1,0,2,1,0,1,
0,1,2,0,1,0,2,1,0,1,0,1,0,1,0,1,0,2,0,1,0,1,0,1,0,1,0,1,2,0,1,0,1,0,1,0,1,0,1,0,
1,0,1,0,1,0,2,0,1,0,1,0,1,0,1,2,0,1,2,0,2,1,0,2,1,0,1,2,0,2,1,0,2,1,2,0,1,2,0,2,
1,0,2,1,0,2,1,2,0,1,2,0,2,1,0,2,1,0,2,1,2,0,1,2,0,2,1,0,2,1,0,2,1,2,0,1,2,0,2,1,
0,2,1,0,2,1,2,0,1,2,0,2,1,0,2,1,2,0,1,2,0,1,2,0,2,1,0,2,1,2,0,1,2,0,2,1,0,2,1,2,
0,1,2,0,2,1,0,2,1,2,0,1,2,0,2,1,0,1,0,1,0,1,0,1,0,1,0,1,0,1,0,1,0,1,0,1,0,1,0,1,
0,1,0,1,0,1,0,1,2,0,1,2,0,2,1,0,2,1,2,0,1,2,0,1,2,0,2,1,0,1,2,0,2,1,0,2,1,2,0,1,
2,0,1,2,0,1,0,2,1,0,1,2,0,2,1,0,1,2,0,1,2,0,1,0,2,1,0,1,2,0,2,1,0,1,2,0,1,0,2,1,
0,1,2,0,1,0,2,1,0,2,1,0,1,2,0,1,0,2,1,0,1,2,0,2,1,0,1,0,2,1,0,1,2,0,1,2,0,1,0,2,
1];
const hbCat = [
7,4,2,5,1,3,4,2,5,3,1,4,2,3,5,2,4,1,3,5,2,4,3,1,5,2,3,4,1,5,3,2,4,3,1,5,2,4,3,2,
3,5,1,4,2,5,3,1,4,2,5,3,2,4,1,5,3,2,4,1,5,3,2,4,3,5,2,6,4,3,5,2,7,4,6,3,5,2,4,6,
3,5,2,6,4,3,5,2,6,4,5,3,7,4,2,6,5,3,7,4,2,5,6,3,4,2,6,5,3,4,6,2,5,3,4,6,2,5,4,3,
5,2,6,4,3,5,2,4,6,3,5,2,4,3,6,2,5,4,3,6,2,5,3,4,6,2,4,5,3,6,2,4,2,1,3,2,4,1,3,2,
3,1,2,4,1,3,2,1,3,2,4,1,2,3,1,2,3,4,1,2,3,1,2,0,3,1,2,4,2,1,3,2,1,4,2,3,1,2,3,1,
2,4,1,3,2,1,3,2,4,1,2,3,1,2,4,1,3,2,1,3,0,2,4,1,3,2,1,2,3,4,1,2,3,1,2,4,2,1,3,2,
1,3,2,4,1,2,3,1,2,4,2,1,3,2,1,3,4,1,2,3,1,2,0,3,1,4,2,1,3,2,4,1,2,3,1,2,3,4,1,2,
3,1,2,4,1,3,2,1,3,2,4,1,2,3,1,2,4,1,3,2,1,3,2,4,1,2,3,1,2,4,1,3,2,1,3,4,2,1,3,2,
1,3,2,4,1,2,3,1,2,4,1,3,2,1,4,2,3,1,2,4,1,3,2,4,1,3,5,2,7,4,1,3,5,2,4,1,5,3,2,4,
3,1,5,2,4,1,3,5,2,4,1,3,5,7,3,4,6,2,5,3,4,6,3,5,2,4,6,3,5,4,2,6,3,5,4,3,6,2,5,4,
3,5,4,6,2,4,5,3,6,4,3,5,2,4,6,3,5,4,3,6,2,5,4,3,6,4,5,2,3,5,4,6,3,4,5,2,6,3,4,5,
3,6,4,2,5,3,4,6,3,5,4,2,6,3,5,4,3,6,5,3,4,7,2,5,4,3,6,4,5,3,2,6,4,5,3,6,4,3,5,4,
6,3,5,4,2,6,3,7,5,4,3,6,4,5,2,4,6,3,5,4,6,3,7,4,5,3,6,4,2,5,3,6,4,5,3,4,6,3,5,4,
2,5,6,3,4,5,3,6,4,2,5,3,6,4,5,3,4,6,3,7,4,5,3,6,4,2,5,4,6,3,5,4,3,6,2,5,4,6,3,5,
4,3,6,5,3,4,2,6,4,5,3,4,6,3,5,2,4,6,3,5,4,3,6,4,5,3,2,6,4,5,3,4,6,3,5,4,2,6,3,5,
4,3,5,6,3,4,5,3,4,6,3,5,4,3,4,5,3,6,4,3,5,4,3,6,2,5,4,3,6,4,5,3,4,6,2,5,3,4,6,3,
5,4,3,6,4,5,2,4,6,3,5,4,3,7,5,4,3,6,4,5,2,4,6,3,5,4,3,6,4,5,3,2,6,4,5,3,4,6,3,5,
4,6,3,5,2,4,6,3,5,4,3,6,4,5,2,4,6,3,5,4,3,6,4,5,3,2,6,4,5,3,4,6,3,7,5,4,2,6,3,5,
4,3,6,5,3,4,7,5,3,6,4,5,2,4,6,3,5,4,3,6,4,5,3,2,6,4,5,7,3,6,4,5,3,4,6,2,5,3,4,6,
3,5,4,6,3,5,2,4,6,3,5,4,3,6,4,5,2,6,3,5,4,3,6,4,5,3,6,4,2,5,3,6,4,5,3,4,6,3,5,4,
5];

// ---------- tick labels and legend texts ----------
const timePsTickLabels = {0:'0',20000:'20000',40000:'40000',60000:'60000',80000:'80000',100000:'1e+05'};
const residueTickLabels = {0:'0',100:'100',200:'200',300:'300'};
const rgTickLabels = ['2.1','2.15','2.2','2.25','2.3','2.35'];
const legendA = ['Apo-Mpro', 'Mpo-Remdesiver', 'Mpro-L(-)-Catechin'];
const legendBCD = ['Apo-Mpro', 'Mpro-Remdesiver', 'Mpro-L(-)-Catechin'];
const legendE = ['Mpro-Remdesiver', 'Mpro-L(-)-Catechin'];

// ---------- build ----------
const FONT = '"Liberation Serif","Times New Roman",Times,serif';
const FRAME = '#8a8a8a';
const BLACK = '#000000', RED = '#ff0000', GREEN = '#00ff00';

function pairs(vals, x0, dx) { return vals.map((v, i) => [x0 + i * dx, v]); }

const grids = [], xAxes = [], yAxes = [], series = [], graphics = [];
function panel(gi, box, xr, yr) {
  grids.push({left: box[0], top: box[1], width: box[2], height: box[3], containLabel: false, outerBoundsMode: 'none'});
  const base = (r) => ({
    gridIndex: gi, type: 'value', min: r.min, max: r.max, interval: r.interval,
    axisLine: {show: true, onZero: false, lineStyle: {color: FRAME, width: 1}},
    axisTick: {show: true, inside: true, length: 7, lineStyle: {color: FRAME, width: 1}},
    minorTick: {show: true, splitNumber: r.minor, length: 4, lineStyle: {color: FRAME, width: 1}},
    splitLine: {show: false}, minorSplitLine: {show: false}
  });
  const nameStyle = (fs) => ({color: '#000', fontFamily: FONT, fontSize: fs, fontStyle: 'italic', fontWeight: 'bold'});
  xAxes.push(Object.assign(base(xr), {position: 'bottom',
    axisLabel: {show: true, color: '#000', fontFamily: FONT, fontSize: xr.fs, margin: 4, formatter: xr.fmt, showMaxLabel: true, showMinLabel: true},
    name: xr.name, nameLocation: 'middle', nameGap: xr.gap, nameTextStyle: nameStyle(xr.nfs),
    nameMoveOverlap: xr.moveOverlap !== undefined ? xr.moveOverlap : true}));
  xAxes.push(Object.assign(base(xr), {position: 'top', axisLabel: {show: false}}));
  yAxes.push(Object.assign(base(yr), {position: 'left',
    axisLabel: {show: true, color: '#000', fontFamily: FONT, fontSize: yr.fs, margin: 4, formatter: yr.fmt, showMaxLabel: true, showMinLabel: true},
    name: yr.name, nameLocation: 'middle', nameGap: yr.gap, nameTextStyle: nameStyle(yr.nfs)}));
  yAxes.push(Object.assign(base(yr), {position: 'right', axisLabel: {show: false}}));
  series.push({type: 'scatter', xAxisIndex: 2 * gi, yAxisIndex: 2 * gi, silent: true, clip: false, z: 5,
    symbol: 'rect', symbolSize: 6, itemStyle: {color: '#000'},
    data: [[xr.min, yr.max], [xr.max, yr.max],
      {value: [xr.min, yr.min], itemStyle: xr.cornerStyle || {color: '#000'}},
      {value: [xr.max, yr.min], itemStyle: xr.cornerStyle || {color: '#000'}}]});
}
function line(gi, name, data, color, width) {
  series.push({type: 'line', name, xAxisIndex: 2 * gi, yAxisIndex: 2 * gi, data,
    symbol: 'none', showSymbol: false, silent: true,
    lineStyle: {color, width}, itemStyle: {color}, z: 2});
}
// legend box drawn as graphic: box [x,y,w,h], icon x-range, icon width, text x (per row), row centres
function legendBox(box, names, colors, ix1, ix2, iw, tx, rows, fs) {
  graphics.push({type: 'rect', z: 100, silent: true,
    shape: {x: box[0] + 0.5, y: box[1] + 0.5, width: box[2], height: box[3]},
    style: {fill: '#ffffff', stroke: '#7a7a7a', lineWidth: 1}});
  names.forEach((n, i) => {
    const yy = Math.round(rows[i]) + (iw % 2 ? 0.5 : 0);
    graphics.push({type: 'line', z: 101, silent: true,
      shape: {x1: ix1, y1: yy, x2: ix2, y2: yy}, style: {stroke: colors[i], lineWidth: iw}});
    graphics.push({type: 'text', z: 101, silent: true, x: Array.isArray(tx) ? tx[i] : tx, y: rows[i],
      style: {text: n, fill: '#000', fontFamily: FONT, fontSize: fs, verticalAlign: 'middle', align: 'left'}});
  });
}

// (a)
panel(0, [107, 58, 461, 277],
  {min: 0, max: 100, interval: 50, minor: 2, fs: 13, name: 'Time (ns)', gap: 16, nfs: 14},
  {min: 0, max: 2, interval: 0.5, minor: 2, fs: 13, name: 'RMSD (nm)', gap: 29, nfs: 12});
series[series.length - 1].data[2].itemStyle = {color: '#a040a0'};
line(0, legendA[0], pairs(rmsdApo, 0, rmsdStepNs), BLACK, 2);
line(0, legendA[1], pairs(rmsdRem, 0, rmsdStepNs), RED, 2);
line(0, legendA[2], pairs(rmsdCat, 0, rmsdStepNs), GREEN, 2);
legendBox([409, 58, 159, 50], legendA, [BLACK, RED, GREEN], 416, 437, 2, 447, [67, 82, 97], 14.3);

// (b)
panel(1, [636, 51, 483, 276],
  {min: 0, max: 310, interval: 100, minor: 2, fs: 14, name: 'Residue', gap: 18, nfs: 14,
   fmt: (v) => residueTickLabels[v] !== undefined ? residueTickLabels[v] : ''},
  {min: 0, max: 1, interval: 0.2, minor: 2, fs: 14, name: 'RMSF(nm)', gap: 27, nfs: 15});
line(1, legendBCD[0], pairs(rmsfApo, rmsfFirstResidue, rmsfResidueStep), BLACK, 1.5);
line(1, legendBCD[1], pairs(rmsfRem, rmsfFirstResidue, rmsfResidueStep), RED, 1.5);
line(1, legendBCD[2], pairs(rmsfCat, rmsfFirstResidue, rmsfResidueStep), GREEN, 1.5);
legendBox([954, 51, 151, 54], legendBCD, [BLACK, RED, GREEN], 960, 981, 2, [991, 986, 984], [60, 77, 94], 14.3);

// (c)
panel(2, [97, 411, 473, 282],
  {min: 0, max: 100000, interval: 20000, minor: 2, fs: 15, name: 'Time (ps)', gap: 18, nfs: 15,
   fmt: (v) => timePsTickLabels[v] !== undefined ? timePsTickLabels[v] : ''},
  {min: 2.1, max: 2.4, interval: 0.05, minor: 2, fs: 15, name: 'Rg (nm)', gap: 38, nfs: 13.5,
   fmt: (v) => { const k = Math.round((v - 2.1) / 0.05); return rgTickLabels[k] !== undefined ? rgTickLabels[k] : ''; }});
line(2, legendBCD[0], pairs(rgApo, 0, rgStepPs), BLACK, 1);
line(2, legendBCD[1], pairs(rgRem, 0, rgStepPs), RED, 1);
line(2, legendBCD[2], pairs(rgCat, 0, rgStepPs), GREEN, 1);
legendBox([411, 410, 159, 56], legendBCD, [BLACK, RED, GREEN], 417, 429, 1, 440, [420, 437.5, 454.5], 15.5);

// (d)
panel(3, [660, 414, 472, 277],
  {min: 0, max: 100000, interval: 20000, minor: 2, fs: 15, name: 'Time (ps)', gap: 19, nfs: 14.5,
   fmt: (v) => timePsTickLabels[v] !== undefined ? timePsTickLabels[v] : ''},
  {min: 130, max: 170, interval: 10, minor: 2, fs: 15, name: 'Solven Accessible Surface(nm\u00B2)', gap: 34, nfs: 14.5});
line(3, legendBCD[0], pairs(sasaApo, 0, sasaStepPs), BLACK, 1);
line(3, legendBCD[1], pairs(sasaRem, 0, sasaStepPs), RED, 1);
line(3, legendBCD[2], pairs(sasaCat, 0, sasaStepPs), GREEN, 1);
legendBox([982, 414, 151, 60], legendBCD, [BLACK, RED, GREEN], 987, 999, 1, 1008, [424, 443, 462], 14.8);

// (e)
panel(4, [354, 775, 510, 309],
  {min: 0, max: 100000, interval: 20000, minor: 2, fs: 15, name: 'Time (ps)', gap: 10, nfs: 14, moveOverlap: false,
   fmt: (v) => timePsTickLabels[v] !== undefined ? timePsTickLabels[v] : '',
   cornerStyle: {color: '#fff', borderColor: '#000', borderWidth: 1}},
  {min: 0, max: 8, interval: 2, minor: 2, fs: 15, name: 'Number of H-Bonds', gap: 23, nfs: 12.5});
line(4, legendE[0], pairs(hbRem, 0, hbStepPs), BLACK, 1);
line(4, legendE[1], pairs(hbCat, 0, hbStepPs), RED, 1);
legendBox([701, 776, 163, 37], legendE, [BLACK, RED], 707, 719, 1, 730, [785, 802], 15.8);

// light page border line right of panel (b)
graphics.push({type: 'line', z: 0, silent: true, shape: {x1: 1130.5, y1: 40, x2: 1130.5, y2: 360},
  style: {stroke: '#dcdcdc', lineWidth: 2}});

const titleStyle = {color: '#000', fontFamily: FONT, fontSize: 23, fontWeight: 'normal'};
const titles = [['(a)', 7, 12], ['(b)', 644, 12], ['(c)', 20, 372], ['(d)', 664, 372], ['(e)', 328, 739]]
  .map(([t, l, tp]) => ({text: t, left: l, top: tp, padding: 0, textStyle: titleStyle}));

const chart = echarts.init(document.getElementById('c'), null, {renderer: 'svg'});
chart.setOption({
  backgroundColor: '#ffffff', animation: false,
  textStyle: {fontFamily: FONT},
  title: titles, grid: grids, xAxis: xAxes, yAxis: yAxes, series,
  graphic: {elements: graphics}
});
</script></body></html>
